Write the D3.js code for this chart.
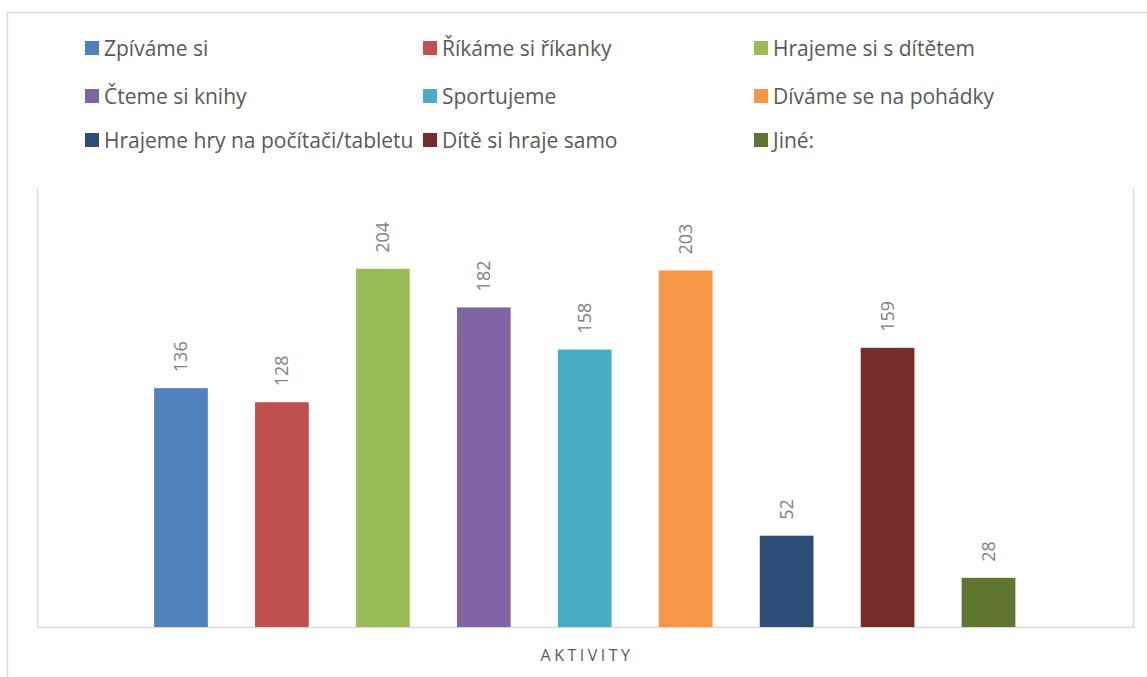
<!DOCTYPE html>
<html><head><meta charset="utf-8">
<script src="https://cdn.jsdelivr.net/npm/d3@7"></script>
<style>body{margin:0;background:#fff}svg{display:block}</style>
</head><body>
<svg id="c" width="1147" height="677"></svg>
<script>
const categories = ["Zpíváme si","Říkáme si říkanky","Hrajeme si s dítětem","Čteme si knihy","Sportujeme","Díváme se na pohádky","Hrajeme hry na počítači/tabletu","Dítě si hraje samo","Jiné:"];
const values = [136,128,204,182,158,203,52,159,28];
const colors = ["#4f81bd","#c0504d","#9bbb59","#8064a2","#4bacc6","#f79646","#2c4d75","#772c2a","#5f7530"];
const axisTitle = "AKTIVITY";

const svg = d3.select("#c");
const font = "'Open Sans', 'Noto Sans', sans-serif";

// outer frame
svg.append("path").attr("d","M7.5,677 V12.5 H1147").attr("fill","none").attr("stroke","#d9d9d9").attr("stroke-width",1.5);

const plot = {l:37, r:1133, t:188, b:627};
const y = d3.scaleLinear().domain([0,250]).range([plot.b, plot.t]);
const x = d3.scaleBand().domain(categories).range([130.5, 1039]).paddingInner(0.468).paddingOuter(0.234);

// plot border (left, right, bottom)
svg.append("path").attr("d",`M${plot.l+0.5},${plot.t} V${plot.b+0.5} H${plot.r+0.5} V${plot.t}`)
  .attr("fill","none").attr("stroke","#d9d9d9").attr("stroke-width",1.5);

svg.append("g").selectAll("rect").data(categories).join("rect")
  .attr("x", d=>x(d)).attr("width", x.bandwidth())
  .attr("y", (d,i)=>y(values[i])).attr("height",(d,i)=>plot.b - y(values[i]))
  .attr("fill",(d,i)=>colors[i]);

svg.append("g").selectAll("text").data(categories).join("text")
  .attr("transform",(d,i)=>`translate(${x(d)+x.bandwidth()/2+6},${y(values[i])-16}) rotate(-90)`)
  .attr("text-anchor","start")
  .attr("font-family",font).attr("font-size",18).attr("fill","#808080")
  .text((d,i)=>values[i]);

// axis title
svg.append("text").attr("x",(plot.l+plot.r)/2+2).attr("y",661).attr("text-anchor","middle")
  .attr("font-family",font).attr("font-size",16).attr("letter-spacing","3.5px").attr("fill","#595959")
  .text(axisTitle);

// legend
const colX = [85, 423, 754];
const rowY = [48, 96, 140];
const lg = svg.append("g").selectAll("g").data(categories).join("g")
  .attr("transform",(d,i)=>`translate(${colX[i%3]},${rowY[Math.floor(i/3)]})`);
lg.append("rect").attr("x",0).attr("y",-7).attr("width",14).attr("height",14).attr("fill",(d,i)=>colors[i]);
lg.append("text").attr("x",19).attr("y",7.5).attr("font-family",font).attr("font-size",21).attr("fill","#595959").text(d=>d);
</script>
</body></html>
